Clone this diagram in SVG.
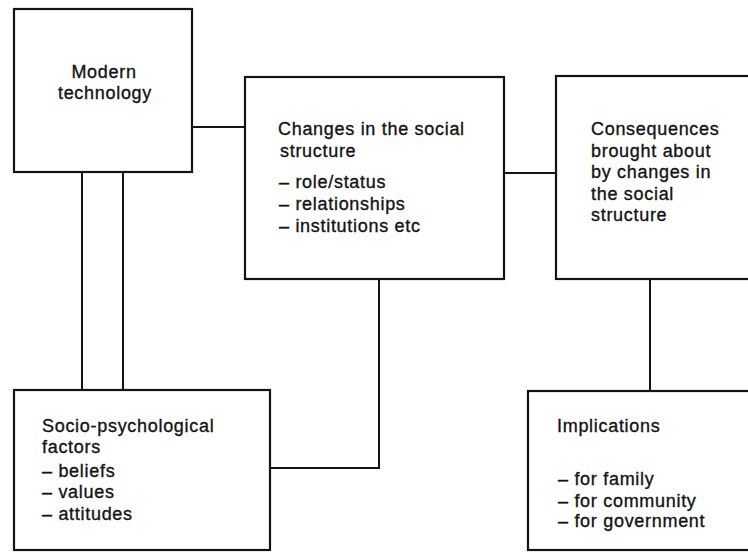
<svg xmlns="http://www.w3.org/2000/svg" width="748" height="552" viewBox="0 0 748 552">
  <style>
    .box { fill: #fff; stroke: #141414; stroke-width: 2.2; }
    .wire { fill: none; stroke: #141414; stroke-width: 2; }
    text { font-family: "Liberation Sans", Arial, sans-serif; font-size: 18px; letter-spacing: 0.7px; fill: #141414; stroke: #141414; stroke-width: 0.35px; }
    .mid { text-anchor: middle; }
  </style>
  <rect width="748" height="552" fill="#fff"/>

  <!-- connectors -->
  <g id="connectors">
    <line class="wire" x1="192" y1="127" x2="245" y2="127"/>
    <line class="wire" x1="504" y1="173" x2="556" y2="173"/>
    <line class="wire" x1="82" y1="172" x2="82" y2="390"/>
    <line class="wire" x1="123" y1="172" x2="123" y2="390"/>
    <polyline class="wire" points="270,468 379,468 379,279"/>
    <line class="wire" x1="650" y1="279" x2="650" y2="391"/>
  </g>

  <g id="modern-technology">
    <rect class="box" x="14" y="9" width="178" height="163"/>
    <text class="mid" x="104" y="78">Modern</text>
    <text class="mid" x="105" y="99">technology</text>
  </g>

  <g id="social-structure">
    <rect class="box" x="245" y="77" width="259" height="202"/>
    <text x="278" y="135">Changes in the social</text>
    <text x="280" y="157">structure</text>
    <text x="279" y="188">– role/status</text>
    <text x="279" y="210">– relationships</text>
    <text x="279" y="232">– institutions etc</text>
  </g>

  <g id="consequences">
    <rect class="box" x="556" y="76" width="200" height="203"/>
    <text x="591" y="135">Consequences</text>
    <text x="591" y="157">brought about</text>
    <text x="591" y="178">by changes in</text>
    <text x="591" y="200">the social</text>
    <text x="591" y="221">structure</text>
  </g>

  <g id="socio-psychological">
    <rect class="box" x="14" y="390" width="256" height="160"/>
    <text x="42" y="432">Socio-psychological</text>
    <text x="42" y="453">factors</text>
    <text x="42" y="477">– beliefs</text>
    <text x="42" y="498">– values</text>
    <text x="42" y="520">– attitudes</text>
  </g>

  <g id="implications">
    <rect class="box" x="528" y="391" width="230" height="159"/>
    <text x="557" y="432">Implications</text>
    <text x="558" y="485">– for family</text>
    <text x="558" y="507">– for community</text>
    <text x="558" y="527">– for government</text>
  </g>
</svg>
